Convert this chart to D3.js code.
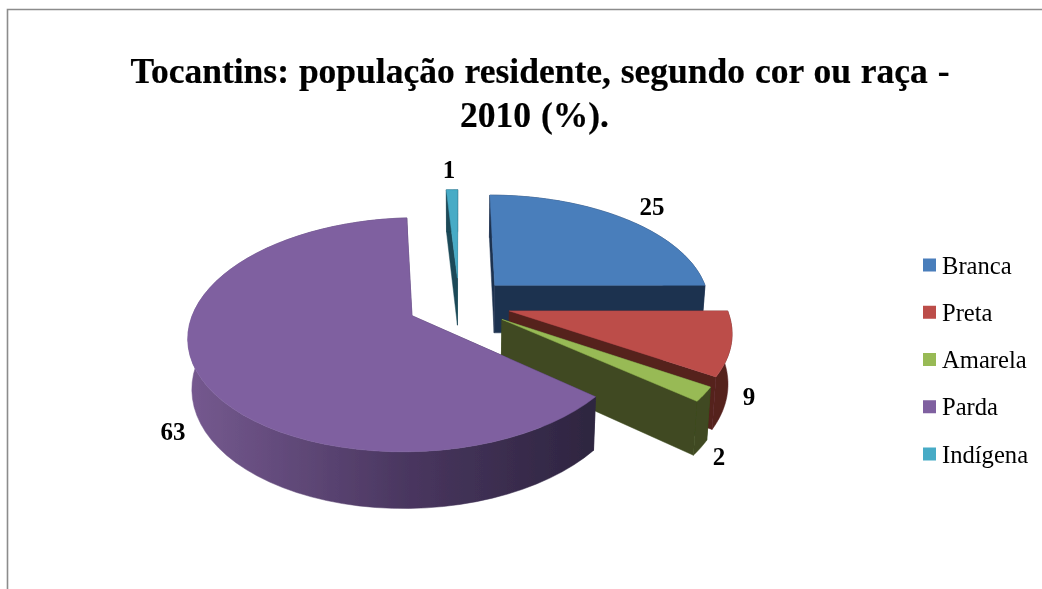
<!DOCTYPE html>
<html><head><meta charset="utf-8">
<script src="https://cdn.jsdelivr.net/npm/d3@7/dist/d3.min.js"></script>
<style>html,body{margin:0;padding:0;background:#fff;overflow:hidden}svg{display:block}
text{font-family:"Liberation Serif","Times New Roman",serif;fill:#000}</style></head>
<body><svg id="c" width="1042" height="589"></svg>
<script>
const categories = ["Branca","Preta","Amarela","Parda","Indígena"];
const values = [25,9,2,63,1];
const topColors = ["#4a7ebb","#bc4d4a","#98ba55","#7f60a0","#46abc6"];
const sideColors = ["#1f3350","#55201f","#3f4a20","url(#pardaSide)","#1d4a58"];
const titleLines = ["Tocantins: população residente, segundo cor ou raça -","2010 (%)."];

// layout
const W=1042,H=589, cx=459, cy=303.5, A=216, B=110, persp=.16, depth=48.5, backScale=.985, explode=.24;
const labelAt = [[652,215],[749,405],[719,465],[173,440],[449,178]];
const drawOrder = [4,0,1,2,3];

const svg=d3.select("#c");
const defs=svg.append("defs");
const g=defs.append("linearGradient").attr("id","pardaSide").attr("gradientUnits","userSpaceOnUse")
  .attr("x1",190).attr("x2",590).attr("y1",0).attr("y2",0);
g.append("stop").attr("offset","0").attr("stop-color","#75598f");
g.append("stop").attr("offset",".55").attr("stop-color","#49365f");
g.append("stop").attr("offset","1").attr("stop-color","#2e2540");
const soft=defs.append("filter").attr("id","soft");
soft.append("feGaussianBlur").attr("stdDeviation",.45);
const softText=defs.append("filter").attr("id","softText");
softText.append("feGaussianBlur").attr("stdDeviation",.35);

// frame
svg.append("path").attr("d",`M7.5 ${H}V9.5H${W}`).attr("fill","none").attr("stroke","#8c8c8c").attr("stroke-width",1.6);

// title
svg.append("g").attr("filter","url(#softText)").selectAll("text").data(titleLines).join("text")
  .attr("x",(d,i)=>[540,534.5][i]).attr("y",(d,i)=>[83,127][i]).attr("text-anchor","middle")
  .attr("font-size",35.5).attr("font-weight","bold").style("word-spacing","1px")
  .attr("stroke","#000").attr("stroke-width",.2)
  .text(d=>d);

// projection of the pie's ground plane
const project=(u,v,low)=>{
  const s=1/(1-persp*v);
  return low ? [cx+A*backScale*u*s, cy+(B*backScale*v+depth)*s] : [cx+A*u*s, cy+B*v*s];
};
const arcs=d3.pie().sort(null).value(d=>d)(values);
const line=d3.line();

const pie3d=svg.append("g").attr("filter","url(#soft)");
drawOrder.forEach(i=>{
  const a=arcs[i], mid=(a.startAngle+a.endAngle)/2;
  const ou=explode*Math.sin(mid), ov=-explode*Math.cos(mid);
  const rim=d3.range(0,61).map(k=>{
    const t=a.startAngle+(a.endAngle-a.startAngle)*k/60;
    return [ou+Math.sin(t), ov-Math.cos(t)];
  });
  const up=p=>project(p[0],p[1],false), dn=p=>project(p[0],p[1],true);
  const apex=[ou,ov], first=rim[0], last=rim[60];
  const grp=pie3d.append("g").attr("class","slice");
  // cut faces
  [first,last].forEach(e=>{
    grp.append("path").attr("fill",sideColors[i]).attr("stroke",sideColors[i]).attr("stroke-width",.5)
      .attr("d",line([up(apex),up(e),dn(e),dn(apex)])+"Z");
  });
  // outer wall
  grp.append("path").attr("fill",sideColors[i]).attr("stroke",sideColors[i]).attr("stroke-width",.5)
    .attr("d",line(rim.map(up).concat(rim.slice().reverse().map(dn)))+"Z");
  // top
  grp.append("path").attr("fill",topColors[i]).attr("stroke",topColors[i]).attr("stroke-width",.5)
    .attr("d",line([up(apex)].concat(rim.map(up)))+"Z");
});

// data labels
svg.append("g").attr("filter","url(#softText)").selectAll("text").data(values).join("text")
  .attr("x",(d,i)=>labelAt[i][0]).attr("y",(d,i)=>labelAt[i][1])
  .attr("text-anchor","middle").attr("font-size",25).attr("font-weight","bold")
  .text(d=>d);

// legend
const ly=d3.scalePoint().domain(categories).range([265,454]);
const lg=svg.append("g").attr("filter","url(#softText)").selectAll("g").data(categories).join("g")
  .attr("transform",d=>`translate(923,${ly(d)})`);
lg.append("rect").attr("x",0).attr("y",-6.5).attr("width",13).attr("height",13).attr("fill",(d,i)=>topColors[i]);
lg.append("text").attr("x",19).attr("y",8.5).attr("font-size",24.6).text(d=>d);
</script></body></html>
